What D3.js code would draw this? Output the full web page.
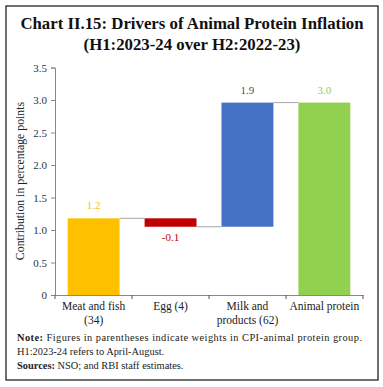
<!DOCTYPE html>
<html><head><meta charset="utf-8">
<script src="https://cdn.jsdelivr.net/npm/d3@7"></script>
<style>body{margin:0;background:#fff;} svg{display:block;}</style>
</head><body>
<script>
const categories = ["Meat and fish|(34)", "Egg (4)", "Milk and|products (62)", "Animal protein"];
const values = [1.18, -0.13, 1.91, 2.96];
const valueLabels = ["1.2", "-0.1", "1.9", "3.0"];
const isTotal = [false, false, false, true];
const barColors = ["#FFC000", "#C00000", "#4472C4", "#92D050"];
const labelColors = ["#FFC000", "#C00000", "#44546A", "#92D050"];
const yTicks = [0, 0.5, 1.0, 1.5, 2.0, 2.5, 3.0, 3.5];
const yTickLabels = ["0", "0.5", "1.0", "1.5", "2.0", "2.5", "3.0", "3.5"];

const W = 383, H = 387;
const serif = "'Liberation Serif', 'DejaVu Serif', serif";
const svg = d3.select("body").append("svg").attr("width", W).attr("height", H);

svg.append("rect").attr("x", 6).attr("y", 6).attr("width", 372).attr("height", 374)
  .attr("fill", "none").attr("stroke", "#222").attr("stroke-width", 1.3);

svg.append("text").attr("x", 192).attr("y", 29).attr("text-anchor", "middle")
  .attr("font-family", serif).attr("font-weight", "bold").attr("font-size", 16.8).attr("fill", "#111")
  .text("Chart II.15: Drivers of Animal Protein Inflation");
svg.append("text").attr("x", 192).attr("y", 50).attr("text-anchor", "middle")
  .attr("font-family", serif).attr("font-weight", "bold").attr("font-size", 16.8).attr("fill", "#111")
  .text("(H1:2023-24 over H2:2022-23)");

const x = d3.scaleBand().domain(categories).range([55, 363]).paddingInner(0.325).paddingOuter(0.165);
const y = d3.scaleLinear().domain([0, 3.5]).range([295, 67.5]);

// compute waterfall bases
let run = 0;
const bars = categories.map((c, i) => {
  let lo, hi;
  if (isTotal[i]) { lo = 0; hi = values[i]; run = values[i]; }
  else { const s = run; run = run + values[i]; lo = Math.min(s, run); hi = Math.max(s, run); }
  return {c, i, lo, hi, end: run};
});

// connectors
for (let i = 0; i < bars.length - 1; i++) {
  svg.append("line")
    .attr("x1", x(bars[i].c) + x.bandwidth()).attr("x2", x(bars[i+1].c))
    .attr("y1", y(bars[i].end)).attr("y2", y(bars[i].end))
    .attr("stroke", "#A6A6A6").attr("stroke-width", 1);
}

svg.selectAll("rect.bar").data(bars).enter().append("rect").attr("class", "bar")
  .attr("x", d => x(d.c)).attr("width", x.bandwidth())
  .attr("y", d => y(d.hi)).attr("height", d => y(d.lo) - y(d.hi))
  .attr("fill", d => barColors[d.i]);

svg.selectAll("text.vl").data(bars).enter().append("text").attr("class", "vl")
  .attr("x", d => x(d.c) + x.bandwidth() / 2)
  .attr("y", d => values[d.i] < 0 ? y(d.lo) + 14 : y(d.hi) - 9)
  .attr("text-anchor", "middle").attr("font-family", serif).attr("font-size", 11)
  .attr("fill", d => labelColors[d.i]).text(d => valueLabels[d.i]);

// y axis
const yAxis = svg.append("g").attr("transform", "translate(55,0)")
  .call(d3.axisLeft(y).tickValues(yTicks).tickFormat((d, i) => yTickLabels[i]).tickSize(4).tickPadding(4));
yAxis.select(".domain").attr("stroke", "#888");
yAxis.selectAll(".tick line").attr("stroke", "#888");
yAxis.selectAll("text").attr("font-family", serif).attr("font-size", 11).attr("fill", "#333");

// x axis
const xAxis = svg.append("g").attr("transform", "translate(0,295)")
  .call(d3.axisBottom(x).tickSize(0).tickFormat(""));
xAxis.select(".domain").attr("stroke", "#888");
xAxis.selectAll(".tick").remove();
[0,1,2,3,4].forEach(i => {
  const bx = x.range()[0] + (x.range()[1]-x.range()[0]) * i / 4;
  xAxis.append("line").attr("x1", bx).attr("x2", bx).attr("y1", 0).attr("y2", 4).attr("stroke", "#555");
});
categories.forEach(c => {
  const lines = c.split("|");
  const t = xAxis.append("text").attr("x", x(c) + x.bandwidth() / 2).attr("y", 15)
    .attr("text-anchor", "middle").attr("font-family", serif).attr("font-size", 11.5).attr("fill", "#222");
  lines.forEach((l, j) => t.append("tspan").attr("x", x(c) + x.bandwidth() / 2).attr("dy", j === 0 ? 0 : 13.5).text(l));
});

svg.append("text").attr("transform", "translate(24,181) rotate(-90)").attr("text-anchor", "middle")
  .attr("font-family", serif).attr("font-size", 11.8).attr("fill", "#222")
  .text("Contribution in percentage points");

// notes
const fs = 10.4;
const n1 = svg.append("text").attr("x", 17).attr("y", 341).attr("font-family", serif).attr("font-size", fs).attr("fill", "#222")
  .attr("textLength", 345).attr("lengthAdjust", "spacing");
n1.append("tspan").attr("font-weight", "bold").text("Note:");
n1.append("tspan").text(" Figures in parentheses indicate weights in CPI-animal protein group.");
svg.append("text").attr("x", 17).attr("y", 355).attr("font-family", serif).attr("font-size", fs).attr("fill", "#222")
  .text("H1:2023-24 refers to April-August.");
const n3 = svg.append("text").attr("x", 17).attr("y", 369).attr("font-family", serif).attr("font-size", fs).attr("fill", "#222");
n3.append("tspan").attr("font-weight", "bold").text("Sources:");
n3.append("tspan").text(" NSO; and RBI staff estimates.");
</script>
</body></html>
